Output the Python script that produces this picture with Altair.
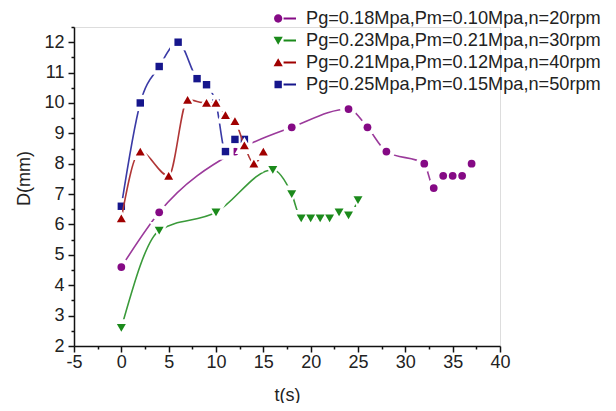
import altair as alt
import pandas as pd

series_names = [
    "Pg=0.18Mpa,Pm=0.10Mpa,n=20rpm",
    "Pg=0.23Mpa,Pm=0.21Mpa,n=30rpm",
    "Pg=0.21Mpa,Pm=0.12Mpa,n=40rpm",
    "Pg=0.25Mpa,Pm=0.15Mpa,n=50rpm",
]

t_20 = [0, 4, 12, 18, 24, 26, 28, 32, 33, 34, 35, 36, 37]
d_20 = [4.6, 6.4, 8.4, 9.2, 9.8, 9.2, 8.4, 8.0, 7.2, 7.6, 7.6, 7.6, 8.0]

t_30 = [0, 4, 10, 16, 18, 19, 20, 21, 22, 23, 24, 25]
d_30 = [2.6, 5.8, 6.4, 7.8, 7.0, 6.2, 6.2, 6.2, 6.2, 6.4, 6.3, 6.8]

t_40 = [0, 2, 5, 7, 9, 10, 11, 12, 13, 14, 15]
d_40 = [6.2, 8.4, 7.6, 10.1, 10.0, 10.0, 9.6, 9.4, 8.6, 8.0, 8.4]

t_50 = [0, 2, 4, 6, 8, 9, 10, 11, 12, 13]
d_50 = [6.6, 10.0, 11.2, 12.0, 10.8, 10.6, 10.0, 8.4, 8.8, 8.8]

x_ticks = [-5, -2.5, 0, 2.5, 5, 7.5, 10, 12.5, 15, 17.5, 20, 22.5, 25, 27.5, 30, 32.5, 35, 37.5, 40]
y_ticks = [2, 2.5, 3, 3.5, 4, 4.5, 5, 5.5, 6, 6.5, 7, 7.5, 8, 8.5, 9, 9.5, 10, 10.5, 11, 11.5, 12, 12.5]

line_colors = ["#9b3a9b", "#3a9a3a", "#b03636", "#3a3aa6"]
mark_colors = ["#850a85", "#1b8a1b", "#a00000", "#16168c"]
shapes = ["circle", "triangle-down", "triangle-up", "square"]
sizes = [60, 80, 80, 55]

FONT = "Liberation Sans"

xscale = alt.Scale(domain=[-5, 40], nice=False, zero=False)
yscale = alt.Scale(domain=[2, 12.5], nice=False, zero=False)

xaxis = alt.Axis(
    values=x_ticks, labelExpr="datum.value % 5 == 0 ? '' + datum.value : ''",
    tickSize={"condition": {"test": "datum.value % 5 == 0", "value": 6}, "value": 3},
    labelOverlap=False, labelFlush=False, grid=False,
    domainColor="#111", domainWidth=1.5, tickColor="#111", tickWidth=1.5,
    labelFont=FONT, labelFontSize=18, labelColor="#222", labelPadding=1,
    titleFont=FONT, titleFontSize=18, titleFontWeight="normal", titleColor="#222",
    titleBaseline="middle", titleY=49,
)
yaxis = alt.Axis(
    values=y_ticks, labelExpr="datum.value % 1 == 0 ? '' + datum.value : ''",
    tickSize={"condition": {"test": "datum.value % 1 == 0", "value": 6}, "value": 3},
    labelOverlap=False, labelFlush=False, grid=False,
    domainColor="#111", domainWidth=1.5, tickColor="#111", tickWidth=1.5,
    labelFont=FONT, labelFontSize=18, labelColor="#222", labelPadding=4,
    titleFont=FONT, titleFontSize=18, titleFontWeight="normal", titleColor="#222",
    titleX=-41, titleY=151,
)


def series_layers(t, d, idx):
    df = pd.DataFrame({"t": t, "D": d})
    base = alt.Chart(df).encode(
        x=alt.X("t:Q", scale=xscale, axis=xaxis, title="t(s)"),
        y=alt.Y("D:Q", scale=yscale, axis=yaxis, title="D(mm)"),
    )
    line = base.mark_line(color=line_colors[idx], strokeWidth=1.6, interpolate="monotone")
    halo = base.mark_point(shape=shapes[idx], filled=True, color="white",
                           size=sizes[idx] * 4.8, opacity=1)
    mark = base.mark_point(shape=shapes[idx], filled=True, color=mark_colors[idx],
                           size=sizes[idx], opacity=1)
    return [line, halo, mark]


data = [(t_20, d_20), (t_30, d_30), (t_40, d_40), (t_50, d_50)]
layers = []
for idx in [0, 1, 3, 2]:
    layers += series_layers(data[idx][0], data[idx][1], idx)

# legend layer (invisible marks, legend symbols = marker + line)
line_part = " M-0.08,-0.08 L1,-0.08 L1,0.08 L-0.08,0.08 Z"
legend_paths = [
    "M-0.91,0 A0.36,0.36 0 1,0 -0.19,0 A0.36,0.36 0 1,0 -0.91,0 Z" + line_part,
    "M-0.95,-0.32 L-0.15,-0.32 L-0.55,0.38 Z" + line_part,
    "M-0.95,0.32 L-0.15,0.32 L-0.55,-0.38 Z" + line_part,
    "M-0.87,-0.32 L-0.23,-0.32 L-0.23,0.32 L-0.87,0.32 Z" + line_part,
]
rows = []
for name, (t, d) in zip(series_names, data):
    for ti, di in zip(t, d):
        rows.append({"t": ti, "D": di, "series": name})
df_all = pd.DataFrame(rows)

leg = alt.Legend(
    orient="none", legendX=199, legendY=-20, title=None,
    labelFont=FONT, labelFontSize=18.2, labelColor="#222", labelLimit=0,
    symbolSize=529, symbolStrokeWidth=0, symbolOpacity=1,
    rowPadding=2, labelOffset=10, padding=0,
)
legend_layer = alt.Chart(df_all).mark_point(filled=True, opacity=0).encode(
    x=alt.X("t:Q", scale=xscale, axis=xaxis, title="t(s)"),
    y=alt.Y("D:Q", scale=yscale, axis=yaxis, title="D(mm)"),
    color=alt.Color("series:N", scale=alt.Scale(domain=series_names, range=mark_colors), legend=leg),
    shape=alt.Shape("series:N", scale=alt.Scale(domain=series_names, range=legend_paths), legend=leg),
)

chart = alt.layer(legend_layer, *layers).properties(
    width=426, height=319,
    autosize=alt.AutoSizeParams(type="none"),
    padding={"left": 66, "top": 19, "right": 108, "bottom": 57},
).configure_view(stroke=None).configure(background="white")

chart.save("out.html", embed_options={"renderer": "svg", "actions": False})
